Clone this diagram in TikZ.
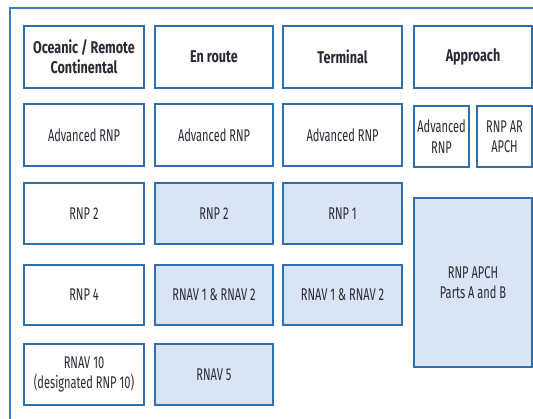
\documentclass[tikz,border=0pt]{standalone}
\usepackage{fontspec}
\setmainfont[FakeStretch=0.65]{Fira Sans}
\newfontfamily\headfont[FakeStretch=0.74]{Fira Sans}
\begin{document}
\definecolor{frameblue}{HTML}{3A7BBE}
\definecolor{boxblue}{HTML}{2F6FAF}
\definecolor{cellfill}{HTML}{D9E5F4}
\definecolor{txt}{HTML}{2A2A35}
\begin{tikzpicture}[x=1pt,y=-1pt,
  cell/.style={draw=boxblue,line width=1.4pt,fill=white,inner sep=1pt,
    text=txt,align=center,font=\fontsize{17}{20.5}\selectfont},
  hdr/.style={cell,font=\headfont\fontsize{17}{20}\selectfont\bfseries},
  shaded/.style={cell,fill=cellfill}]
\useasboundingbox (0,0) rectangle (533,419);
% outer frame, open to the right and bottom
\draw[frameblue,line width=1.8pt] (10,425) -- (10,8) -- (540,8);
% header row
\node[hdr,minimum width=120,minimum height=62] (h1) at (84,57) {Oceanic / Remote\\Continental};
\node[hdr,minimum width=118,minimum height=62] (h2) at (214,57) {En route};
\node[hdr,minimum width=119,minimum height=62] (h3) at (342.5,57) {Terminal};
\node[hdr,minimum width=118,minimum height=62] (h4) at (473,57) {Approach};
% Advanced RNP row
\node[cell,minimum width=120,minimum height=62] (a1) at (84,135) {Advanced RNP};
\node[cell,minimum width=118,minimum height=62] (a2) at (214,135) {Advanced RNP};
\node[cell,minimum width=119,minimum height=62] (a3) at (342.5,135) {Advanced RNP};
\node[cell,minimum width=55,minimum height=61] (a4) at (441.5,136.5) {Advanced\\RNP};
\node[cell,minimum width=55,minimum height=61] (a5) at (504.5,136.5) {RNP AR\\APCH};
% third row
\node[cell,minimum width=120,minimum height=61] (b1) at (84,213.5) {RNP 2};
\node[shaded,minimum width=118,minimum height=61] (b2) at (214,213.5) {RNP 2};
\node[shaded,minimum width=119,minimum height=61] (b3) at (342.5,213.5) {RNP 1};
% fourth row
\node[cell,minimum width=120,minimum height=60] (c1) at (84,295) {RNP 4};
\node[shaded,minimum width=118,minimum height=60] (c2) at (214,295) {RNAV 1 \& RNAV 2};
\node[shaded,minimum width=119,minimum height=60] (c3) at (342.5,295) {RNAV 1 \& RNAV 2};
% fifth row
\node[cell,minimum width=120,minimum height=61] (d1) at (84,374.5) {RNAV 10\\(designated RNP 10)};
\node[shaded,minimum width=118,minimum height=61] (d2) at (214,374.5) {RNAV 5};
% approach procedure block
\node[shaded,minimum width=118,minimum height=169] (ap) at (473,282.5) {RNP APCH\\Parts A and B};
\end{tikzpicture}
\end{document}
